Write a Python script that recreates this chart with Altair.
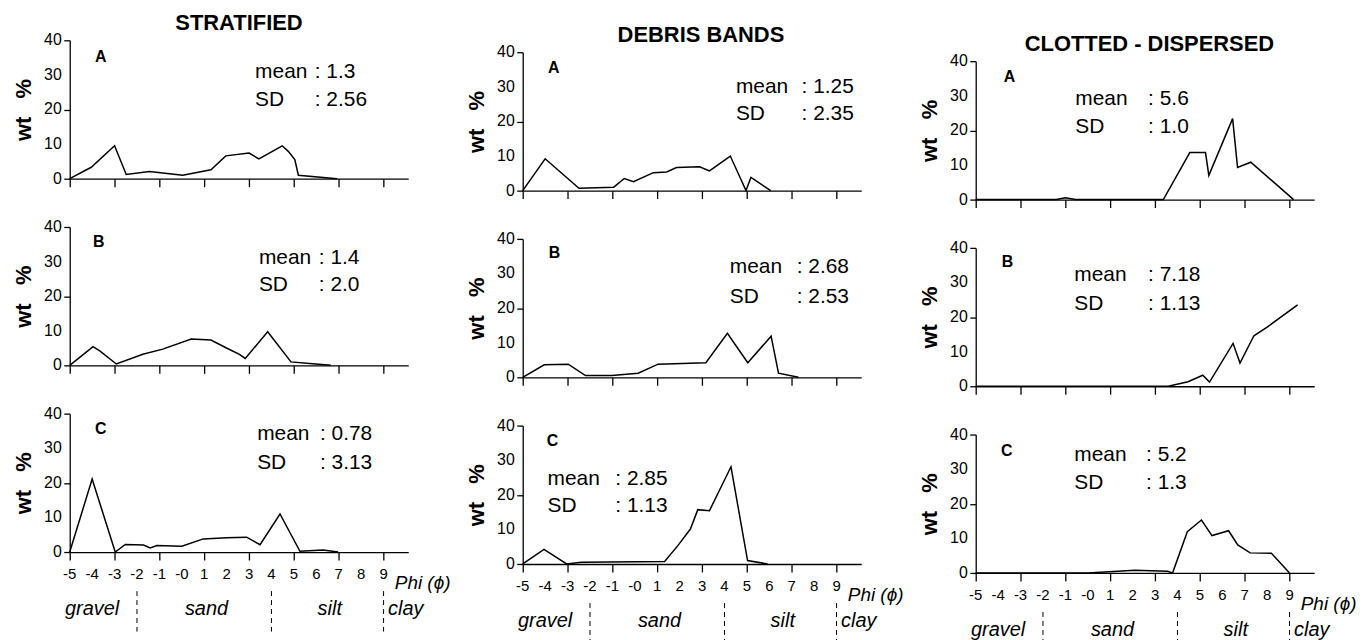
import altair as alt
import pandas as pd

FONT = "Liberation Sans"

PHI_TICKS = list(range(-5, 10))
PHI_LABELS = ["-5", "-4", "-3", "-2", "-1", "-0", "1", "2", "3", "4", "5", "6", "7", "8", "9"]
Y_TICKS = [0, 10, 20, 30, 40]
Y_LABELS = ["0", "10", "20", "30", "40"]
COLUMN_TITLES = ["STRATIFIED", "DEBRIS BANDS", "CLOTTED - DISPERSED"]
ROW_LETTERS = ["A", "B", "C"]
CLASS_NAMES = ["gravel", "sand", "silt", "clay"]
CLASS_BOUNDS = [-2, 4, 9]

# ---- STRATIFIED ----
strat_a_phi = [-5, -4.04, -3.0, -2.48, -1.44, 0.04, 1.3, 1.96, 3.0, 3.44, 4.48, 4.75, 5.04, 5.2, 6.93]
strat_a_wt = [0, 3.3, 9.5, 1.2, 2.1, 1.0, 2.6, 6.6, 7.4, 5.7, 9.5, 7.9, 5.5, 1.0, 0]
strat_b_phi = [-5, -3.96, -3.66, -2.92, -1.74, -0.85, 0.42, 1.3, 1.97, 2.57, 2.83, 3.83, 4.87, 5.83, 6.65]
strat_b_wt = [0, 5.4, 4.2, 0.4, 3.2, 4.7, 7.6, 7.3, 5.1, 3.2, 2.0, 9.7, 1.0, 0.5, 0]
strat_c_phi = [-5, -4.0, -2.97, -2.52, -1.71, -1.41, -1.11, 0.0, 0.96, 2.0, 2.89, 3.49, 4.38, 5.27, 6.3, 6.97]
strat_c_wt = [0, 21.1, 0, 2.2, 2.0, 1.2, 1.9, 1.7, 3.8, 4.1, 4.3, 2.1, 11.0, 0.2, 0.6, 0]

# ---- DEBRIS BANDS ----
debris_a_phi = [-5, -4.0, -2.49, -0.94, -0.47, -0.06, 0.83, 1.42, 1.86, 2.89, 3.33, 4.26, 4.96, 5.18, 6.06]
debris_a_wt = [0, 9.2, 0.7, 1.0, 3.5, 2.6, 5.2, 5.4, 6.7, 6.9, 5.7, 10.0, 0, 3.8, 0]
debris_b_phi = [-5, -4.04, -2.97, -2.2, -1.02, 0.15, 1.04, 3.17, 4.13, 5.04, 6.08, 6.41, 7.3]
debris_b_wt = [0, 3.6, 3.8, 0.5, 0.5, 1.2, 3.8, 4.2, 12.7, 4.2, 11.9, 1.2, 0]
debris_c_phi = [-5, -4.05, -3.04, -2.38, 1.33, 1.92, 2.48, 2.81, 3.33, 4.29, 5.03, 5.92]
debris_c_wt = [0, 4.2, 0, 0.5, 0.7, 5.3, 10.1, 15.7, 15.4, 28.1, 1.0, 0]

# ---- CLOTTED - DISPERSED ----
clotted_a_phi = [-5, -1.4, -1.0, -0.55, 3.37, 4.55, 5.25, 5.4, 6.46, 6.68, 7.27, 8.37, 9.18]
clotted_a_wt = [0, 0, 0.5, 0, 0, 13.6, 13.6, 7.0, 23.4, 9.3, 10.8, 4.6, 0]
clotted_b_phi = [-5, 3.59, 4.47, 5.13, 5.43, 6.48, 6.79, 7.41, 8.0, 9.36]
clotted_b_wt = [0, 0, 1.3, 3.2, 1.2, 12.4, 6.7, 14.6, 17.1, 23.5]
clotted_c_phi = [-5, 0.0, 2.09, 3.56, 3.78, 4.44, 5.07, 5.54, 6.28, 6.69, 7.24, 8.19, 9.0]
clotted_c_wt = [0, 0, 0.8, 0.5, 0, 11.9, 15.3, 10.8, 12.2, 8.1, 5.8, 5.7, 0]

strat_means = ["1.3", "1.4", "0.78"]
strat_sds = ["2.56", "2.0", "3.13"]
debris_means = ["1.25", "2.68", "2.85"]
debris_sds = ["2.35", "2.53", "1.13"]
clotted_means = ["5.6", "7.18", "5.2"]
clotted_sds = ["1.0", "1.13", "1.3"]

# annotation placement (data units): letter x,y ; mean x,y ; sd y ; colon x
ANN = {
    (0, 0): (-3.62, 35.1, 3.27, 30.8, 22.7, 5.93),
    (0, 1): (-3.71, 35.7, 3.44, 31.1, 23.3, 6.11),
    (0, 2): (-3.62, 35.7, 3.36, 34.1, 25.7, 6.16),
    (1, 0): (-3.62, 35.4, 4.51, 29.9, 22.2, 7.44),
    (1, 1): (-3.58, 36.0, 4.24, 31.9, 23.3, 7.22),
    (1, 2): (-3.67, 35.4, -3.89, 24.5, 16.7, -0.87),
    (2, 0): (-3.49, 35.4, -0.56, 29.1, 21.0, 2.69),
    (2, 1): (-3.58, 36.0, -0.60, 32.2, 23.9, 2.69),
    (2, 2): (-3.62, 35.1, -0.60, 34.0, 25.9, 2.60),
}

SERIES = [
    [(strat_a_phi, strat_a_wt), (strat_b_phi, strat_b_wt), (strat_c_phi, strat_c_wt)],
    [(debris_a_phi, debris_a_wt), (debris_b_phi, debris_b_wt), (debris_c_phi, debris_c_wt)],
    [(clotted_a_phi, clotted_a_wt), (clotted_b_phi, clotted_b_wt), (clotted_c_phi, clotted_c_wt)],
]
MEANS = [strat_means, debris_means, clotted_means]
SDS = [strat_sds, debris_sds, clotted_sds]

W, H = 340, 139
XSCALE = alt.Scale(domain=[-5, 10.1], nice=False, zero=False)
COL_SHIFT = [0, 12, 21]          # vertical stagger of the three columns (px)
TITLE_X = [2.55, 2.95, 2.75]     # centre of column titles (phi units)
TITLE_Y = 45.0                   # column titles sit just above 40 %
NB = "\u00a0"


def text_layer(txt, x, y, size, weight="normal", style="normal", align="left"):
    return alt.Chart(pd.DataFrame({"label": [txt]})).mark_text(
        font=FONT, fontSize=size, fontWeight=weight, fontStyle=style,
        align=align, baseline="middle", color="black",
    ).encode(x=alt.datum(x), y=alt.datum(y), text="label:N")


def panel(ci, ri):
    phi, wt = SERIES[ci][ri]
    bottom = ri == 2
    shift = COL_SHIFT[ci] if ri == 0 else 0
    height = H + shift
    yscale = alt.Scale(domain=[0, 40], range=[height, shift], nice=False, zero=False)
    df = pd.DataFrame({"phi": phi, "wt": wt})
    xaxis = alt.Axis(values=PHI_TICKS, labels=False, title=None, tickSize=8)
    yaxis = alt.Axis(values=Y_TICKS, labels=False, tickSize=6,
                     title="wt" + NB + NB + NB + "%")
    line = alt.Chart(df).mark_line(color="black", strokeWidth=1.5).encode(
        x=alt.X("phi:Q", scale=XSCALE, axis=xaxis),
        y=alt.Y("wt:Q", scale=yscale, axis=yaxis),
    )
    ylab = alt.Chart(pd.DataFrame({"v": Y_TICKS, "label": Y_LABELS})).mark_text(
        font=FONT, fontSize=16, align="right", baseline="middle", dx=-8, color="black"
    ).encode(x=alt.datum(-5), y=alt.Y("v:Q", scale=yscale), text="label:N")
    lx, ly, mx, my, sy, cx = ANN[(ci, ri)]
    layers = [
        line,
        ylab,
        text_layer(ROW_LETTERS[ri], lx, ly, 16, weight="bold", align="center"),
        text_layer("mean", mx, my, 21),
        text_layer(": " + MEANS[ci][ri], cx, my, 21),
        text_layer("SD", mx, sy, 21),
        text_layer(": " + SDS[ci][ri], cx, sy, 21),
    ]
    if ri == 0:
        layers.append(text_layer(COLUMN_TITLES[ci], TITLE_X[ci], TITLE_Y, 22,
                                 weight="bold", align="center"))
    if bottom:
        xlab = alt.Chart(pd.DataFrame({"phi": PHI_TICKS, "label": PHI_LABELS})).mark_text(
            font=FONT, fontSize=15, align="center", baseline="middle", color="black"
        ).encode(x=alt.X("phi:Q", scale=XSCALE), y=alt.datum(-6.3), text="label:N")
        layers.append(xlab)
        bdf = pd.DataFrame({"b": CLASS_BOUNDS})
        rules = alt.Chart(bdf).mark_rule(color="black", strokeWidth=1, strokeDash=[5, 4]).encode(
            x=alt.X("b:Q", scale=XSCALE), y=alt.datum(-11.3), y2=alt.datum(-23)
        )
        layers.append(rules)
        layers.append(text_layer("Phi (ϕ)", 9.5, -9.0, 19, style="italic"))
        layers.append(text_layer(CLASS_NAMES[0], -4.0, -16.5, 20, style="italic", align="center"))
        layers.append(text_layer(CLASS_NAMES[1], 1.1, -16.5, 20, style="italic", align="center"))
        layers.append(text_layer(CLASS_NAMES[2], 6.6, -16.5, 20, style="italic", align="center"))
        layers.append(text_layer(CLASS_NAMES[3], 9.2, -16.5, 20, style="italic", align="left"))
    return alt.layer(*layers).properties(width=W, height=height)


def column(ci):
    return alt.vconcat(*[panel(ci, ri) for ri in range(3)], spacing=31.5)


chart = alt.hconcat(*[column(ci) for ci in range(3)], spacing=14).properties(
    padding={"left": 4, "top": 2, "right": 5, "bottom": 5},
    background="white",
).configure_view(stroke=None).configure_axis(
    domainColor="black", tickColor="black", titleColor="black",
    titleFont=FONT, domainWidth=1.3, tickWidth=1.3, grid=False,
).configure_axisY(
    titleFontSize=22, titleFontWeight="bold", titlePadding=28,
)

chart.save("out.html", embed_options={"renderer": "svg", "actions": False})
